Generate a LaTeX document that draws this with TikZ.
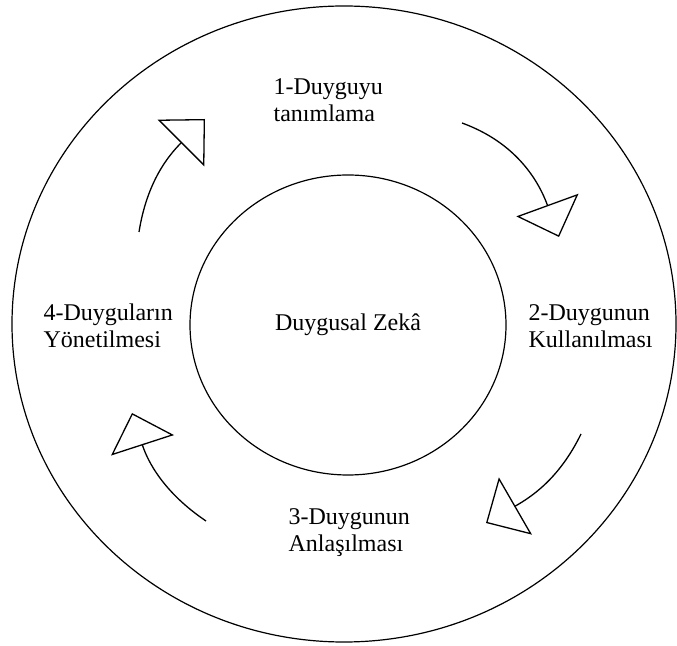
\documentclass[tikz,border=0pt]{standalone}
\usepackage{fontspec}
\setmainfont{Liberation Serif}
\newfontfamily\stagefont{Liberation Serif}
\usetikzlibrary{arrows.meta,shapes.geometric,positioning}

\begin{document}
\begin{tikzpicture}[x=1pt,y=1pt,line width=1.2pt,font=\stagefont\fontsize{24}{27}\selectfont]
       \tikzstyle{ring}=[draw, ellipse, inner sep=0pt]
       \tikzstyle{stage}=[align=left, anchor=base west, inner sep=0pt]
       \tikzstyle{flow}=[-{Triangle[open,length=34pt,width=66pt]}, line width=1.3pt]

       \useasboundingbox (0,0) rectangle (677,645);

       \node[ring, minimum width=664pt, minimum height=636pt] (outer) at (344,321) {};
       \node[ring, minimum width=316pt, minimum height=300pt] (zeka) at (348,320) {Duygusal Zekâ};

       % base anchor sits on the last line
       \node[stage] (s_1) at (273,523) {1-Duyguyu\\tanımlama};
       \node[stage] (s_2) at (528,297) {2-Duygunun\\Kullanılması};
       \node[stage] (s_3) at (288,93) {3-Duygunun\\Anlaşılması};
       \node[stage] (s_4) at (43,297) {4-Duyguların\\Yönetilmesi};

       \coordinate (a_1) at (139,413);
       \coordinate (b_1) at (205,526);
       \coordinate (a_2) at (462,522);
       \coordinate (b_2) at (559,408);
       \coordinate (a_3) at (581,211);
       \coordinate (b_3) at (486,122);
       \coordinate (a_4) at (206,124);
       \coordinate (b_4) at (132,232);

       \path[flow]
       (a_1) edge [out=81, in=225] (b_1)
       (a_2) edge [out=-20, in=110] (b_2)
       (a_3) edge [out=244, in=30] (b_3)
       (a_4) edge [out=146, in=-72] (b_4);
\end{tikzpicture}
\end{document}
